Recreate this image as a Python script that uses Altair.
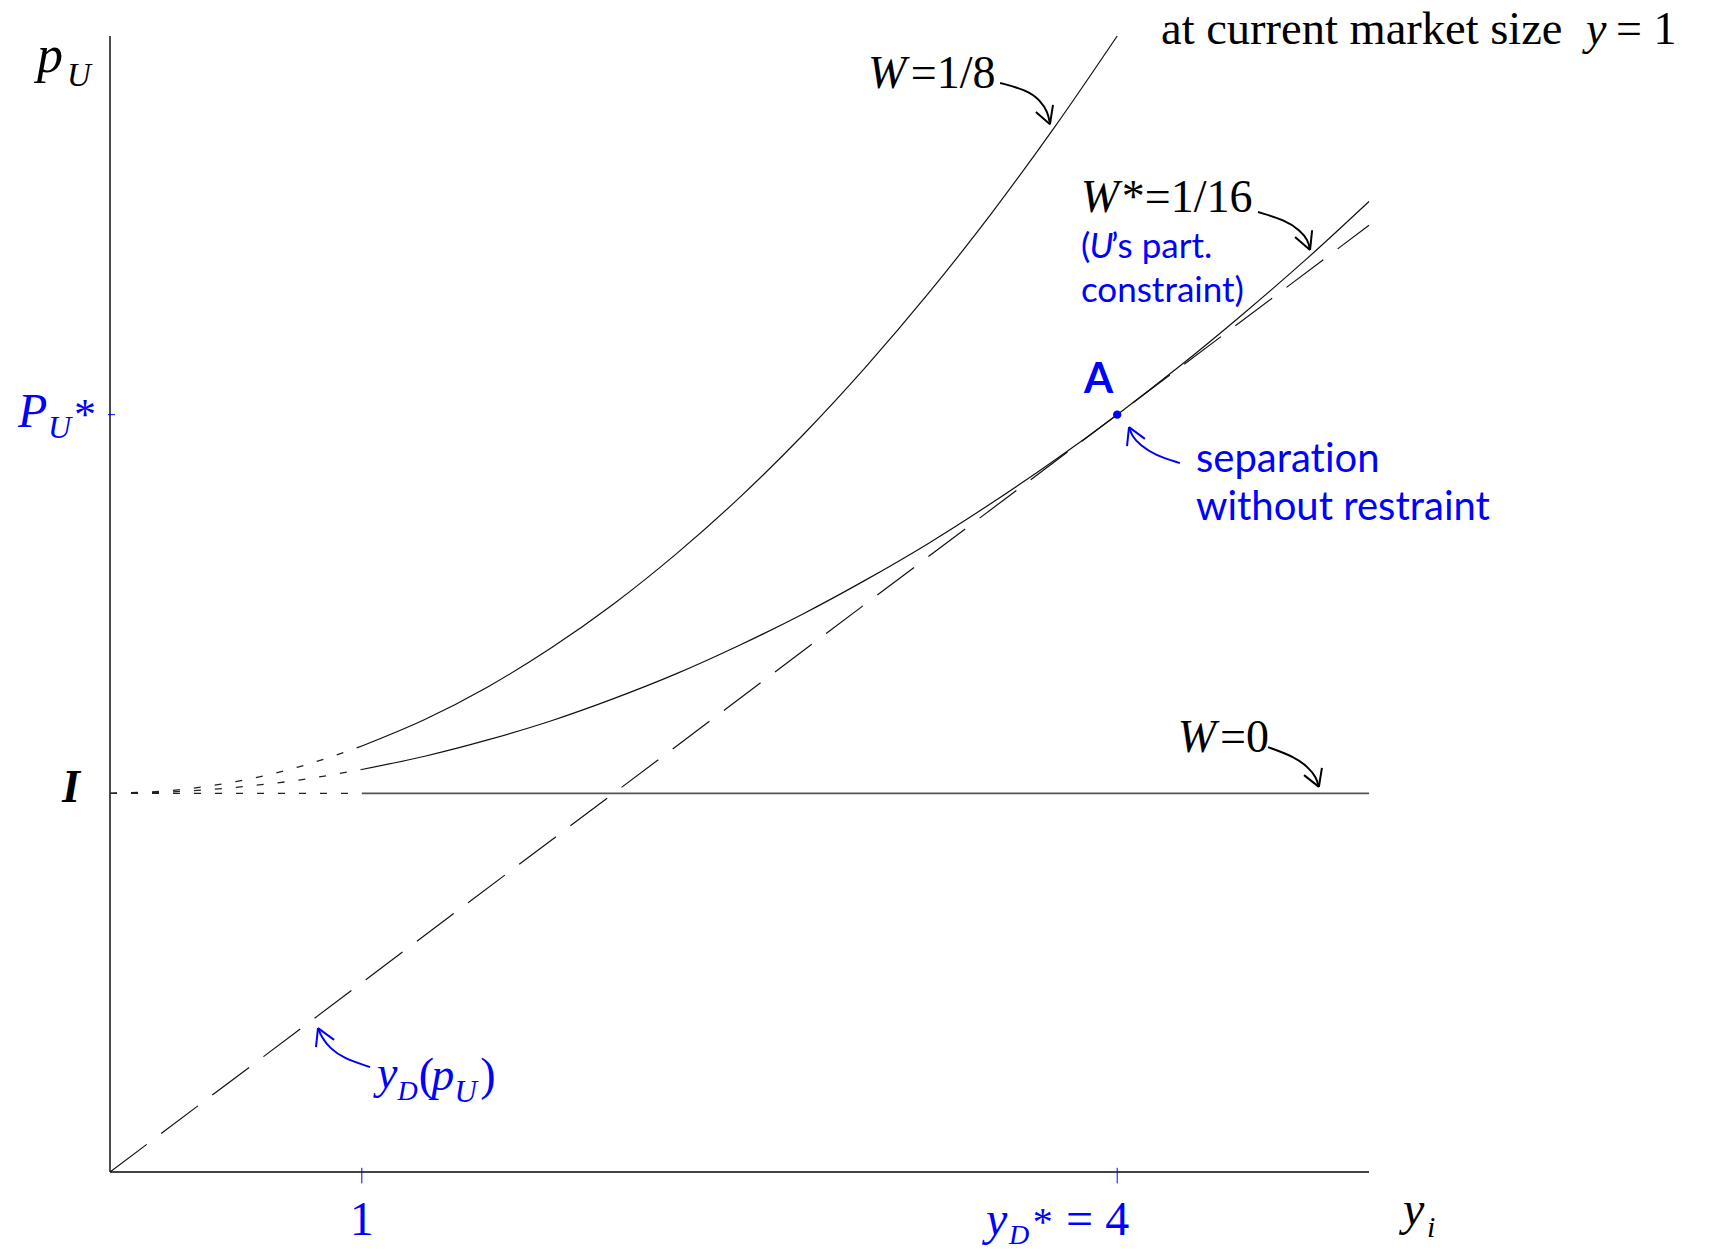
import altair as alt
import pandas as pd

# ---- curve data (y_i on x, p_U on y) ----
X_GRID = [0, 0.25, 0.5, 0.75, 1.0, 1.25, 1.5, 1.75, 2.0, 2.25, 2.5,
          2.75, 3.0, 3.25, 3.5, 3.75, 4.0, 4.25, 4.5, 4.75, 5.0]
W_16 = [1.000, 1.004, 1.016, 1.035, 1.063, 1.098, 1.141, 1.191, 1.250, 1.316, 1.391,
        1.473, 1.563, 1.660, 1.766, 1.879, 2.000, 2.129, 2.266, 2.410, 2.563]
X_GRID_8 = X_GRID[:17]
W_8 = [1.000, 1.008, 1.031, 1.070, 1.125, 1.195, 1.281, 1.383, 1.500, 1.633, 1.781,
       1.945, 2.125, 2.320, 2.531, 2.758, 3.000]
W_0_X = [0, 1, 5]
W_0 = [1, 1, 1]
YD_X = [0, 5]          # y_D(p_U) demand line
YD_P = [0, 2.5]
POINT_A = {"x": [4], "p": [2]}
X_TICKS = [1, 4]
Y_TICKS = [2]

SERIF = "Liberation Serif"
SANS = "Lato"
BLUE = "#0000ff"
ZWNJ = "\u200c"  # keeps Lato from forming its "ti" ligature

xs = alt.Scale(domain=[0, 5], nice=False, zero=False)
ys = alt.Scale(domain=[0, 3], nice=False, zero=False)


def enc(ch):
    return ch.encode(
        x=alt.X("x:Q", scale=xs, axis=None),
        y=alt.Y("p:Q", scale=ys, axis=None),
    )


rows = []
for s, xv, pv in [("W=1/8", X_GRID_8, W_8), ("W*=1/16", X_GRID, W_16), ("W=0", W_0_X, W_0)]:
    for a, b in zip(xv, pv):
        rows.append({"s": s, "x": a, "p": b})
curves = pd.DataFrame(rows)
dotted = curves[curves.x <= 1]
solid = curves[curves.x >= 1]

layers = []

# axes
axes_df = pd.DataFrame([
    {"s": "x", "x": 0, "p": 0}, {"s": "x", "x": 5, "p": 0},
])
layers.append(enc(alt.Chart(axes_df).mark_line(color="#444", strokeWidth=2)).encode(detail="s:N"))
yaxis_df = pd.DataFrame([{"x": 0, "p": 0, "p2": 3}])
layers.append(alt.Chart(yaxis_df).mark_rule(color="#111", strokeWidth=1.5).encode(
    x=alt.X("x:Q", scale=xs, axis=None),
    y=alt.Y("p:Q", scale=ys, axis=None), y2="p2:Q"))

# blue ticks
tick_x_df = pd.DataFrame({"x": X_TICKS, "p": [-0.03] * len(X_TICKS), "p2": [0.011] * len(X_TICKS)})
layers.append(alt.Chart(tick_x_df).mark_rule(color=BLUE, strokeWidth=1).encode(
    x=alt.X("x:Q", scale=xs, axis=None),
    y=alt.Y("p:Q", scale=ys, axis=None), y2="p2:Q"))
tick_y_df = pd.DataFrame({"x": [-0.008] * len(Y_TICKS), "x2": [0.02] * len(Y_TICKS), "p": Y_TICKS})
layers.append(alt.Chart(tick_y_df).mark_rule(color=BLUE, strokeWidth=1).encode(
    x=alt.X("x:Q", scale=xs, axis=None), x2="x2:Q",
    y=alt.Y("p:Q", scale=ys, axis=None)))

# W curves
layers.append(enc(alt.Chart(dotted).mark_line(color="#222", strokeWidth=1.3,
                                               strokeDash=[7, 14], interpolate="monotone")).encode(detail="s:N"))
layers.append(enc(alt.Chart(solid[solid.s != "W=0"]).mark_line(
    color="#111", strokeWidth=1.2, interpolate="monotone")).encode(detail="s:N"))
layers.append(enc(alt.Chart(solid[solid.s == "W=0"]).mark_line(
    color="#555", strokeWidth=1.8)).encode(detail="s:N"))

# demand line y_D(p_U)
yd_df = pd.DataFrame({"x": YD_X, "p": YD_P})
layers.append(enc(alt.Chart(yd_df).mark_line(color="#111", strokeWidth=1.2, strokeDash=[46, 18])))

# point A
layers.append(enc(alt.Chart(pd.DataFrame(POINT_A)).mark_circle(color=BLUE, size=70, opacity=1)))

# curved annotation arrows: (path, barb ends, colour)
ARROWS = {
    "w8": ([(3.535, 2.876), (3.642, 2.857), (3.693, 2.831), (3.725, 2.799), (3.733, 2.767)],
           [(3.677, 2.799), (3.745, 2.818)], "#000"),
    "w16": ([(4.559, 2.535), (4.666, 2.514), (4.726, 2.487), (4.758, 2.461), (4.766, 2.435)],
            [(4.706, 2.469), (4.774, 2.487)], "#000"),
    "w0": ([(4.599, 1.122), (4.706, 1.096), (4.758, 1.069), (4.790, 1.043), (4.801, 1.017)],
           [(4.742, 1.048), (4.813, 1.067)], "#000"),
    "yd": ([(1.033, 0.277), (0.925, 0.301), (0.874, 0.327), (0.842, 0.354), (0.826, 0.380)],
           [(0.818, 0.330), (0.890, 0.349)], BLUE),
    "sep": ([(4.249, 1.872), (4.150, 1.893), (4.091, 1.920), (4.059, 1.943), (4.047, 1.967)],
            [(4.039, 1.917), (4.110, 1.936)], BLUE),
}
for name, (path, barbs, col) in ARROWS.items():
    pdf = pd.DataFrame([{"x": a, "p": b, "i": k} for k, (a, b) in enumerate(path)])
    layers.append(enc(alt.Chart(pdf).mark_line(color=col, strokeWidth=2, interpolate="basis"))
                  .encode(order="i:Q"))
    tip = path[-1]
    brows = []
    for j, (a, b) in enumerate(barbs):
        brows.append({"x": a, "p": b, "g": j, "i": 0})
        brows.append({"x": tip[0], "p": tip[1], "g": j, "i": 1})
    layers.append(enc(alt.Chart(pd.DataFrame(brows)).mark_line(color=col, strokeWidth=2))
                  .encode(detail="g:N", order="i:Q"))


# text pieces: (text, x, p, font, size, colour, style, weight)
LABELS = [
    ("p", -0.290, 2.905, SERIF, 52, "#000", "italic", "normal"),
    ("U", -0.171, 2.868, SERIF, 33, "#000", "italic", "normal"),
    ("P", -0.365, 1.967, SERIF, 48, BLUE, "italic", "normal"),
    ("U", -0.246, 1.938, SERIF, 32, BLUE, "italic", "normal"),
    ("*", -0.143, 1.962, SERIF, 44, BLUE, "normal", "normal"),
    ("I", -0.191, 0.977, SERIF, 46, "#000", "italic", "bold"),
    ("y", 3.479, -0.166, SERIF, 48, BLUE, "italic", "normal"),
    ("D", 3.570, -0.190, SERIF, 28, BLUE, "italic", "normal"),
    ("*", 3.665, -0.166, SERIF, 40, BLUE, "normal", "normal"),
    ("= 4", 3.797, -0.166, SERIF, 48, BLUE, "normal", "normal"),
    ("y", 5.135, -0.140, SERIF, 48, "#000", "italic", "normal"),
    ("i", 5.230, -0.172, SERIF, 30, "#000", "italic", "normal"),
    ("at current market size", 4.174, 2.980, SERIF, 46.5, "#000", "normal", "normal"),
    ("y", 5.862, 2.980, SERIF, 46, "#000", "italic", "normal"),
    ("= 1", 5.981, 2.980, SERIF, 46, "#000", "normal", "normal"),
    ("W", 3.010, 2.862, SERIF, 46, "#000", "italic", "normal"),
    ("=1/8", 3.180, 2.862, SERIF, 46, "#000", "normal", "normal"),
    ("W", 3.855, 2.535, SERIF, 46, "#000", "italic", "normal"),
    ("*=1/16", 4.018, 2.535, SERIF, 46, "#000", "normal", "normal"),
    ("W", 4.240, 1.109, SERIF, 46, "#000", "italic", "normal"),
    ("=0", 4.408, 1.109, SERIF, 46, "#000", "normal", "normal"),
    ("y", 1.060, 0.222, SERIF, 46, BLUE, "italic", "normal"),
    ("D", 1.142, 0.190, SERIF, 28, BLUE, "italic", "normal"),
    ("(", 1.226, 0.217, SERIF, 46, BLUE, "normal", "normal"),
    ("p", 1.276, 0.217, SERIF, 46, BLUE, "italic", "normal"),
    ("U", 1.368, 0.185, SERIF, 31, BLUE, "italic", "normal"),
    (")", 1.470, 0.217, SERIF, 46, BLUE, "normal", "normal"),
    ("(", 3.856, 2.413, SANS, 35, BLUE, "normal", "normal"),
    ("U", 3.890, 2.413, SANS, 35, BLUE, "italic", "normal"),
    ("’s part.", 3.975, 2.413, SANS, 35, BLUE, "normal", "normal"),
    ("constraint)", 3.856, 2.297, SANS, 35, BLUE, "normal", "normal"),
    ("A", 3.868, 2.057, SANS, 42, BLUE, "normal", "bold"),
    ("separat" + ZWNJ + "ion", 4.313, 1.848, SANS, 40, BLUE, "normal", "normal"),
    ("without restraint", 4.313, 1.722, SANS, 40, BLUE, "normal", "normal"),
]
for t, x, p, font, size, col, style, weight in LABELS:
    df = pd.DataFrame([{"t": t, "x": x, "p": p}])
    layers.append(enc(alt.Chart(df).mark_text(
        font=font, fontSize=size, color=col, fontStyle=style, fontWeight=weight,
        align="left", baseline="alphabetic")).encode(text="t:N"))

# tick label "1" centred under its tick
one_df = pd.DataFrame([{"t": "1", "x": X_TICKS[0], "p": -0.166}])
layers.append(enc(alt.Chart(one_df).mark_text(
    font=SERIF, fontSize=48, color=BLUE, align="center", baseline="alphabetic")).encode(text="t:N"))

chart = alt.layer(*layers).properties(
    width=1259, height=1136,
    autosize=alt.AutoSizeParams(type="none"),
    padding={"left": 110, "top": 36, "right": 344, "bottom": 78},
    background="white",
).configure_view(stroke=None)

chart.save("out.html", embed_options={"renderer": "svg", "actions": False})
